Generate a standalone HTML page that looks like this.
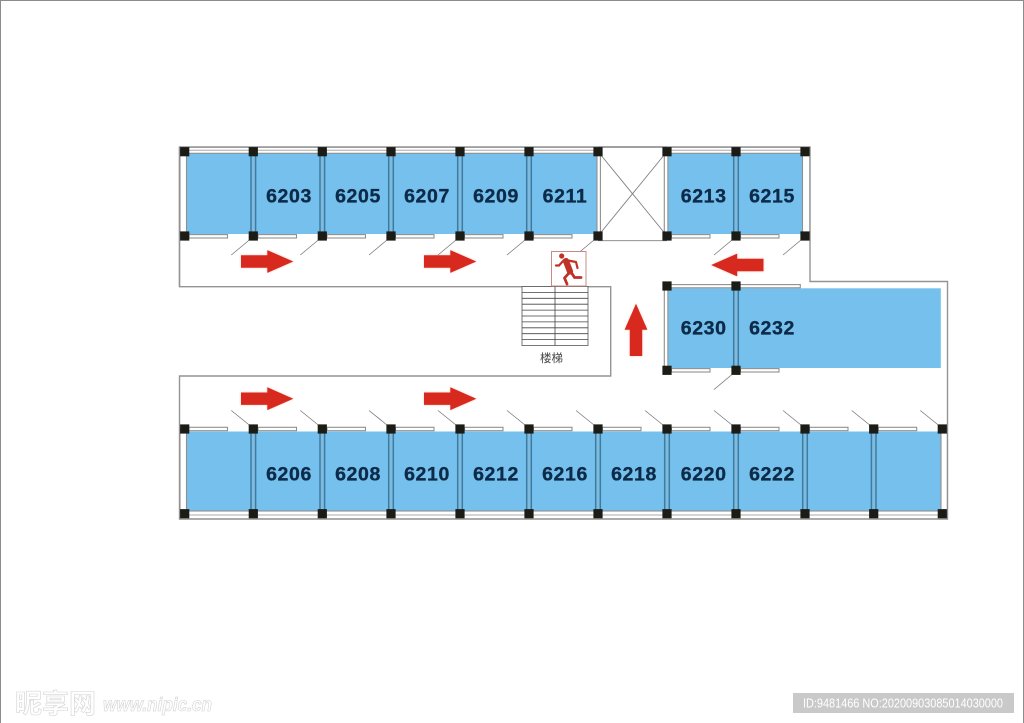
<!DOCTYPE html>
<html lang="zh">
<head>
<meta charset="utf-8">
<title>Floor plan</title>
<style>
html,body{margin:0;padding:0;background:#fff;width:1024px;height:723px;overflow:hidden}
svg{display:block}
.n{font:bold 19.5px "Liberation Sans","DejaVu Sans",sans-serif;letter-spacing:.6px;fill:#0e2c48;stroke:#0e2c48;stroke-width:.35px;text-anchor:middle}
</style>
</head>
<body>
<svg width="1024" height="723" viewBox="0 0 1024 723" xmlns="http://www.w3.org/2000/svg">
<defs>
<filter id="soft" x="-5%" y="-5%" width="110%" height="110%"><feGaussianBlur stdDeviation="0.35"/></filter>
<filter id="glow" x="-30%" y="-30%" width="160%" height="160%"><feGaussianBlur stdDeviation="1"/></filter>
<rect id="p" x="-4.6" y="-4.6" width="9.2" height="9.2" fill="#1b1a19"/>
<g id="sep"><rect x="-2.5" y="0" width="5" height="80" fill="#7fbbdd"/><path d="M-2.3 0V80M2.3 0V80" stroke="#3a7ba6" stroke-width="1.5" fill="none"/></g>
<rect id="door" x="0" y="-1.7" width="38.5" height="3.4" fill="#fff" stroke="#8f8f8f" stroke-width="1.1"/>
<path id="swT" d="M0 0L-18 15" stroke="#777" stroke-width="0.8" fill="none"/>
<path id="swB" d="M0 0L-18 -14.5" stroke="#777" stroke-width="0.8" fill="none"/>
<path id="arr" d="M0 -6.2H26.3V-11.4L52.3 0L26.3 11.4V6.2H0Z"/>
</defs>

<rect width="1024" height="723" fill="#fff"/>
<path d="M0.5 723V0.5H1023.5V723" fill="none" stroke="#8c8c8c" stroke-width="1"/>

<g filter="url(#soft)">
<!-- blue rooms -->
<g fill="#74c0ec">
<rect x="187" y="153.5" width="410" height="80.5"/>
<rect x="668.3" y="153.5" width="134" height="80.5"/>
<rect x="668.3" y="288.3" width="272.5" height="79.7"/>
<rect x="187" y="431.5" width="754" height="79.7"/>
</g>

<!-- outer walls -->
<path d="M179.5 147H810V281.5H947.5V519H179.5V376H610.7V286.7H179.5Z" fill="none" stroke="#949494" stroke-width="1.4"/>
<path d="M179.5 147V286.7" fill="none" stroke="#949494" stroke-width="1.4"/>

<!-- top bands -->
<g fill="#fff" stroke="#8f8f8f" stroke-width="1.1">
<rect x="180" y="147.3" width="417" height="6"/>
<rect x="668" y="147.3" width="141.5" height="6"/>
<rect x="180" y="511" width="767" height="7.8"/>
<rect x="667" y="284.6" width="69" height="3.2"/>
</g>
<path d="M180 150.3H597M668 150.3H805M180 515H947" stroke="#aaa" stroke-width="1"/>

<!-- end walls -->
<g fill="#fff" stroke="#8f8f8f" stroke-width="1.1">
<rect x="180" y="151" width="6.5" height="85"/>
<rect x="180" y="429" width="6.5" height="85"/>
<rect x="802.5" y="151" width="7.3" height="85"/>
<rect x="941" y="429" width="6.3" height="85"/>
<rect x="664.3" y="151" width="3.6" height="85"/>
<rect x="664.3" y="286" width="3.6" height="84"/>
<rect x="597" y="151" width="3.4" height="85"/>
</g>

<!-- separators -->
<use href="#sep" x="253.3" y="153.5"/><use href="#sep" x="322.3" y="153.5"/><use href="#sep" x="391" y="153.5"/><use href="#sep" x="460" y="153.5"/><use href="#sep" x="529" y="153.5"/><use href="#sep" x="736" y="153.5"/>
<use href="#sep" x="736" y="288.3"/>
<use href="#sep" x="253.3" y="431.5"/><use href="#sep" x="322.3" y="431.5"/><use href="#sep" x="391" y="431.5"/><use href="#sep" x="460" y="431.5"/><use href="#sep" x="529" y="431.5"/><use href="#sep" x="598" y="431.5"/><use href="#sep" x="667" y="431.5"/><use href="#sep" x="736" y="431.5"/><use href="#sep" x="805" y="431.5"/><use href="#sep" x="873.7" y="431.5"/>

<!-- elevator -->
<path d="M598 151.5L667 236M667 151.5L598 236M598 240.7H667" stroke="#808080" stroke-width="0.9" fill="none"/>
<path d="M598 147H667" stroke="#888" stroke-width="1.2"/>

<!-- doors -->
<use href="#door" x="189" y="236.3"/><use href="#door" x="258" y="236.3"/><use href="#door" x="327" y="236.3"/><use href="#door" x="395.5" y="236.3"/><use href="#door" x="464.5" y="236.3"/><use href="#door" x="533.5" y="236.3"/><use href="#door" x="671.5" y="236.3"/><use href="#door" x="740.5" y="236.3"/>
<rect x="740" y="284.6" width="60.3" height="3.2" fill="#fff" stroke="#8f8f8f" stroke-width="1.1"/>
<use href="#door" x="671.5" y="370.3"/><use href="#door" x="740.5" y="370.3"/>
<use href="#door" x="189" y="429"/><use href="#door" x="258" y="429"/><use href="#door" x="327" y="429"/><use href="#door" x="395.5" y="429"/><use href="#door" x="464.5" y="429"/><use href="#door" x="533.5" y="429"/><use href="#door" x="602.5" y="429"/><use href="#door" x="671.5" y="429"/><use href="#door" x="740.5" y="429"/><use href="#door" x="809.5" y="429"/><use href="#door" x="878.2" y="429"/>

<!-- door swings -->
<use href="#swT" x="249.3" y="240"/><use href="#swT" x="318.3" y="240"/><use href="#swT" x="387" y="240"/><use href="#swT" x="456" y="240"/><use href="#swT" x="525" y="240"/><use href="#swT" x="594" y="240"/><use href="#swT" x="732" y="240"/><use href="#swT" x="801" y="240"/><use href="#swT" x="732" y="374.5"/>
<use href="#swB" x="249.3" y="425"/><use href="#swB" x="318.3" y="425"/><use href="#swB" x="387" y="425"/><use href="#swB" x="456" y="425"/><use href="#swB" x="525" y="425"/><use href="#swB" x="594" y="425"/><use href="#swB" x="663" y="425"/><use href="#swB" x="732" y="425"/><use href="#swB" x="801" y="425"/><use href="#swB" x="869.7" y="425"/><use href="#swB" x="938.3" y="425"/>

<!-- pillars -->
<use href="#p" x="184.7" y="151.7"/><use href="#p" x="253.3" y="151.7"/><use href="#p" x="322.3" y="151.7"/><use href="#p" x="391" y="151.7"/><use href="#p" x="460" y="151.7"/><use href="#p" x="529" y="151.7"/><use href="#p" x="598" y="151.7"/><use href="#p" x="667" y="151.7"/><use href="#p" x="736" y="151.7"/><use href="#p" x="805" y="151.7"/>
<use href="#p" x="184.7" y="236"/><use href="#p" x="253.3" y="236"/><use href="#p" x="322.3" y="236"/><use href="#p" x="391" y="236"/><use href="#p" x="460" y="236"/><use href="#p" x="529" y="236"/><use href="#p" x="598" y="236"/><use href="#p" x="667" y="236"/><use href="#p" x="736" y="236"/><use href="#p" x="805" y="236"/>
<use href="#p" x="667" y="286"/><use href="#p" x="736" y="286"/><use href="#p" x="667" y="370.3"/><use href="#p" x="736" y="370.3"/>
<use href="#p" x="184.7" y="429"/><use href="#p" x="253.3" y="429"/><use href="#p" x="322.3" y="429"/><use href="#p" x="391" y="429"/><use href="#p" x="460" y="429"/><use href="#p" x="529" y="429"/><use href="#p" x="598" y="429"/><use href="#p" x="667" y="429"/><use href="#p" x="736" y="429"/><use href="#p" x="805" y="429"/><use href="#p" x="873.7" y="429"/><use href="#p" x="942.3" y="429"/>
<use href="#p" x="184.7" y="513.7"/><use href="#p" x="253.3" y="513.7"/><use href="#p" x="322.3" y="513.7"/><use href="#p" x="391" y="513.7"/><use href="#p" x="460" y="513.7"/><use href="#p" x="529" y="513.7"/><use href="#p" x="598" y="513.7"/><use href="#p" x="667" y="513.7"/><use href="#p" x="736" y="513.7"/><use href="#p" x="805" y="513.7"/><use href="#p" x="873.7" y="513.7"/><use href="#p" x="942.3" y="513.7"/>

<!-- stairs -->
<rect x="522" y="286.5" width="66" height="59" fill="#fff" stroke="#555" stroke-width="0.8"/>
<path d="M522 292.4H588M522 298.3H588M522 304.2H588M522 310.1H588M522 316H588M522 321.9H588M522 327.8H588M522 333.7H588M522 339.6H588M555 286.5V345.5" stroke="#444" stroke-width="0.8" fill="none"/>
<text x="551.5" y="362" font-family="'Liberation Sans','Noto Sans CJK SC',sans-serif" font-size="11.5" fill="#444" text-anchor="middle">楼梯</text>

<!-- exit sign -->
<rect x="551.5" y="251.5" width="34.5" height="34.5" fill="#fff" stroke="#c08078" stroke-width="0.9"/>
<g fill="none" stroke="#bf3328" stroke-linecap="round" stroke-linejoin="round">
<path d="M566 261L570 271.5" stroke-width="6.2"/>
<path d="M564 260L559 265.5L556 265.5" stroke-width="2.2"/>
<path d="M568 260.5L576 262L577.5 268" stroke-width="2.2"/>
<path d="M571 272L574.5 277.5L581 277.5" stroke-width="2.8"/>
<path d="M569 273L564.5 278L567 284" stroke-width="2.8"/>
</g>
<circle cx="561.7" cy="256" r="2.6" fill="#bf3328"/>

<!-- room numbers -->
<text class="n" x="289" y="202.7">6203</text>
<text class="n" x="358" y="202.7">6205</text>
<text class="n" x="427" y="202.7">6207</text>
<text class="n" x="496" y="202.7">6209</text>
<text class="n" x="565" y="202.7">6211</text>
<text class="n" x="703.7" y="202.7">6213</text>
<text class="n" x="772" y="202.7">6215</text>
<text class="n" x="703.7" y="334.3">6230</text>
<text class="n" x="772" y="334.3">6232</text>
<text class="n" x="289" y="480.7">6206</text>
<text class="n" x="358" y="480.7">6208</text>
<text class="n" x="427" y="480.7">6210</text>
<text class="n" x="496" y="480.7">6212</text>
<text class="n" x="565" y="480.7">6216</text>
<text class="n" x="634" y="480.7">6218</text>
<text class="n" x="703.7" y="480.7">6220</text>
<text class="n" x="772" y="480.7">6222</text>
</g>

<!-- arrows -->
<g fill="#f2a090" opacity="0.6" filter="url(#glow)">
<use href="#arr" x="241" y="261.5"/><use href="#arr" x="424" y="261.5"/><use href="#arr" x="241" y="398.7"/><use href="#arr" x="424" y="398.7"/>
<use href="#arr" transform="translate(763.5 265) rotate(180)"/><use href="#arr" transform="translate(636 356) rotate(-90)"/>
</g>
<g fill="#d8291f">
<use href="#arr" x="241" y="261.5"/><use href="#arr" x="424" y="261.5"/><use href="#arr" x="241" y="398.7"/><use href="#arr" x="424" y="398.7"/>
<use href="#arr" transform="translate(763.5 265) rotate(180)"/><use href="#arr" transform="translate(636 356) rotate(-90)"/>
</g>

<!-- watermark -->
<text x="15" y="713" font-family="'Noto Sans CJK SC','WenQuanYi Zen Hei',sans-serif" font-size="26.5" font-weight="700" fill="#fff" stroke="#d4d4d4" stroke-width="0.6" textLength="81" lengthAdjust="spacingAndGlyphs">昵享网</text>
<text x="103" y="711" font-family="'Liberation Sans',sans-serif" font-size="19" font-weight="700" font-style="italic" fill="#fff" stroke="#d0d0d0" stroke-width="0.6" textLength="109" lengthAdjust="spacingAndGlyphs">www.nipic.cn</text>

<!-- id bar -->
<rect x="793" y="693" width="221" height="20" fill="#c9c9c9"/>
<text x="803" y="707.5" font-family="'Liberation Sans',sans-serif" font-size="12.5" fill="#fff" textLength="200" lengthAdjust="spacingAndGlyphs">ID:9481466 NO:20200903085014030000</text>
</svg>
</body>
</html>
